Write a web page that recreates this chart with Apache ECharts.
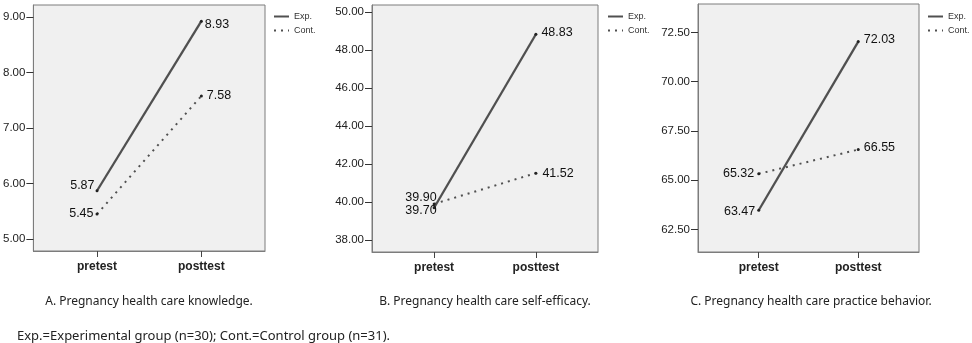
<!DOCTYPE html>
<html>
<head>
<meta charset="utf-8">
<script src="https://cdn.jsdelivr.net/npm/echarts@6/dist/echarts.min.js"></script>
<style>
html,body{margin:0;padding:0;background:#fff;}
#chart{width:972px;height:343px;}
</style>
</head>
<body>
<div id="chart"></div>
<script>
// ---- data ----
const categories = ['pretest', 'posttest'];
const seriesNames = ['Exp.', 'Cont.'];
const expA = [5.87, 8.93];
const contA = [5.45, 7.58];
const expB = [39.70, 48.83];
const contB = [39.90, 41.52];
const expC = [63.47, 72.03];
const contC = [65.32, 66.55];
const ticksA = [5, 6, 7, 8, 9];
const ticksB = [38, 40, 42, 44, 46, 48, 50];
const ticksC = [62.5, 65, 67.5, 70, 72.5];
const categoryTicks = [0, 1];
const captions = [
  'A. Pregnancy health care knowledge.',
  'B. Pregnancy health care self-efficacy.',
  'C. Pregnancy health care practice behavior.'
];
const footnote = 'Exp.=Experimental group (n=30); Cont.=Control group (n=31).';

// ---- layout / style ----
const panels = [
  {grid: {left: 33, top: 5, width: 232, height: 246}, yMin: 4.783, yMax: 9.222, ticks: ticksA,
   exp: expA, cont: contA, legendLeft: 273, capX: 144,
   expLab: [{pos: 'left', dist: 1, off: [0, -5]}, {pos: 'right', dist: 2, off: [0, 3]}],
   contLab: [{pos: 'left', dist: 2, off: [0, 0]}, {pos: 'right', dist: 4, off: [0, 0]}]},
  {grid: {left: 372, top: 5, width: 226, height: 247}, yMin: 37.37, yMax: 50.37, ticks: ticksB,
   exp: expB, cont: contB, legendLeft: 607, capX: 480,
   expLab: [{pos: 'left', dist: 1, off: [5, 3]}, {pos: 'right', dist: 4, off: [0, -2]}],
   contLab: [{pos: 'left', dist: 1, off: [5, -6]}, {pos: 'right', dist: 5, off: [0, 0]}]},
  {grid: {left: 698, top: 4, width: 221, height: 248}, yMin: 61.35, yMax: 73.94, ticks: ticksC,
   exp: expC, cont: contC, legendLeft: 927, capX: 806,
   expLab: [{pos: 'left', dist: 2, off: [0, 1]}, {pos: 'right', dist: 4, off: [0, -2]}],
   contLab: [{pos: 'left', dist: 3, off: [0, 0]}, {pos: 'right', dist: 4, off: [0, -2]}]}
];

const lineColor = '#505050';
const borderColor = '#7c7c7c';
const grids = [], xAxes = [], yAxes = [], series = [], legends = [], titles = [];

function mkData(vals, labs) {
  return vals.map((v, i) => ({
    value: [i, v],
    label: {position: labs[i].pos, distance: labs[i].dist, offset: labs[i].off}
  }));
}

panels.forEach((p, k) => {
  grids.push(Object.assign({show: true, backgroundColor: '#f0f0f0', borderColor: borderColor, borderWidth: 1}, p.grid));
  xAxes.push({
    type: 'value', gridIndex: k, min: -0.61, max: 1.61, position: 'bottom',
    splitLine: {show: false},
    axisLine: {show: true, onZero: false, lineStyle: {color: borderColor, width: 1}},
    axisTick: {show: true, inside: false, customValues: categoryTicks, length: 6, lineStyle: {color: '#444', width: 1}},
    axisLabel: {customValues: categoryTicks, formatter: v => categories[Math.round(v)], margin: 10,
      fontFamily: 'Liberation Sans', fontWeight: 'bold', fontSize: 12, color: '#222'}
  });
  yAxes.push({
    type: 'value', gridIndex: k, min: p.yMin, max: p.yMax, position: 'left',
    splitLine: {show: false},
    axisLine: {show: true, onZero: false, lineStyle: {color: borderColor, width: 1}},
    axisTick: {show: true, customValues: p.ticks, length: 7, lineStyle: {color: '#333'}},
    axisLabel: {customValues: p.ticks, formatter: v => v.toFixed(2), margin: 8,
      fontFamily: 'Liberation Sans', fontSize: 11.5, color: '#222'}
  });
  const common = {
    type: 'line', xAxisIndex: k, yAxisIndex: k,
    symbol: 'circle', symbolSize: 3, itemStyle: {color: '#222'},
    label: {show: true, formatter: pr => pr.value[1].toFixed(2),
      fontFamily: 'Liberation Sans', fontSize: 12.5, color: '#111'},
    emphasis: {disabled: true}, animation: false
  };
  series.push(Object.assign({}, common, {
    name: seriesNames[0], data: mkData(p.exp, p.expLab),
    lineStyle: {color: lineColor, width: 2.3, type: 'solid'}
  }));
  series.push(Object.assign({}, common, {
    name: seriesNames[1], data: mkData(p.cont, p.contLab),
    lineStyle: {color: lineColor, width: 2, type: [2, 5]}
  }));
  legends.push({
    orient: 'vertical', left: p.legendLeft, top: 12, padding: 0,
    itemWidth: 15, itemHeight: 11, itemGap: 5,
    data: seriesNames, selectedMode: false,
    itemStyle: {opacity: 0},
    textStyle: {fontFamily: 'Liberation Sans', fontSize: 9, color: '#333'}
  });
  titles.push({
    text: captions[k], left: p.capX, textAlign: 'center', top: 291,
    textStyle: {fontFamily: 'Noto Sans', fontSize: 12, fontWeight: 'normal', color: '#222'}
  });
});
titles.push({
  text: footnote, left: 12, top: 325,
  textStyle: {fontFamily: 'Noto Sans', fontSize: 13, fontWeight: 'normal', color: '#222'}
});

const chart = echarts.init(document.getElementById('chart'), null, {renderer: 'canvas'});
chart.setOption({
  animation: false,
  title: titles, grid: grids, xAxis: xAxes, yAxis: yAxes, legend: legends, series: series
});
</script>
</body>
</html>
